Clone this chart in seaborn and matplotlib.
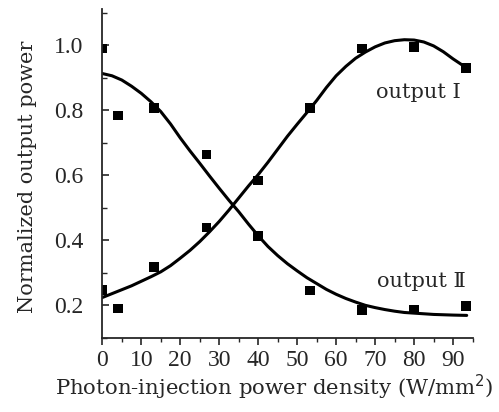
import matplotlib
matplotlib.use('Agg')
import matplotlib.pyplot as plt
import seaborn as sns
import pandas as pd
from matplotlib.ticker import MultipleLocator

# measured points
x_meas = [0, 4, 13.3, 26.7, 40, 53.3, 66.7, 80, 93.3]
out1_meas = [0.248, 0.19, 0.318, 0.439, 0.584, 0.806, 0.99, 0.995, 0.93]
out2_meas = [0.99, 0.784, 0.806, 0.664, 0.413, 0.246, 0.185, 0.187, 0.197]

# fitted curves, every 2.5 units
x_fit = [0, 2.5, 5, 7.5, 10, 12.5, 15, 17.5, 20, 22.5, 25, 27.5, 30, 32.5, 35, 37.5,
         40, 42.5, 45, 47.5, 50, 52.5, 55, 57.5, 60, 62.5, 65, 67.5, 70, 72.5, 75,
         77.5, 80, 82.5, 85, 87.5, 90, 93.5]
out1_fit = [0.224, 0.236, 0.248, 0.260, 0.274, 0.288, 0.303, 0.322, 0.345, 0.369, 0.396,
            0.426, 0.458, 0.493, 0.530, 0.567, 0.602, 0.64, 0.68, 0.72, 0.757, 0.793,
            0.83, 0.870, 0.906, 0.935, 0.960, 0.979, 0.995, 1.007, 1.014, 1.017, 1.016,
            1.01, 0.998, 0.98, 0.958, 0.93]
out2_fit = [0.913, 0.906, 0.893, 0.874, 0.852, 0.826, 0.796, 0.758, 0.715, 0.675, 0.637,
            0.598, 0.560, 0.523, 0.488, 0.45, 0.414, 0.381, 0.353, 0.328, 0.306, 0.285,
            0.267, 0.249, 0.234, 0.221, 0.210, 0.200, 0.193, 0.187, 0.182, 0.178, 0.176,
            0.174, 0.172, 0.171, 0.170, 0.169]

meas = pd.DataFrame({'x': x_meas * 2, 'y': out1_meas + out2_meas,
                     'series': ['I'] * len(x_meas) + ['II'] * len(x_meas)})
fit = pd.DataFrame({'x': x_fit * 2, 'y': out1_fit + out2_fit,
                    'series': ['I'] * len(x_fit) + ['II'] * len(x_fit)})

sns.set_style('ticks')
plt.rcParams['font.family'] = ['DejaVu Serif', 'DejaVu Sans']

fig = plt.figure(figsize=(4.99, 4.12), dpi=100)
ax = fig.add_axes([0.205, 0.180, 0.742, 0.797])

sns.lineplot(data=fit, x='x', y='y', units='series', estimator=None, color='black',
             linewidth=2.2, ax=ax, legend=False)
sns.scatterplot(data=meas, x='x', y='y', marker='s', color='black', s=48,
                edgecolor='none', ax=ax, legend=False)

ax.text(81.2, 0.856, 'output Ⅰ', ha='center', va='center', fontsize=15)
ax.text(81.9, 0.272, 'output Ⅱ', ha='center', va='center', fontsize=15)

ax.set_xlim(0, 95)
ax.set_ylim(0.1, 1.11)
ax.xaxis.set_major_locator(MultipleLocator(10))
ax.xaxis.set_minor_locator(MultipleLocator(5))
ax.yaxis.set_minor_locator(MultipleLocator(0.1))
ax.set_yticks([0.2, 0.4, 0.6, 0.8, 1.0])
ax.set_yticklabels(['0.2', '0.4', '0.6', '0.8', '1.0'])

ax.tick_params(axis='x', which='major', direction='out', length=5, width=1.2, labelsize=17, pad=4)
ax.tick_params(axis='x', which='minor', direction='out', length=3, width=1.0)
ax.tick_params(axis='y', which='major', direction='in', length=5, width=1.2, labelsize=17, pad=13.5)
ax.tick_params(axis='y', which='minor', direction='in', length=3.5, width=1.0)
for lab in ax.get_xticklabels() + ax.get_yticklabels():
    lab.set_family('Liberation Serif')

sns.despine(ax=ax)
for side in ['left', 'bottom']:
    ax.spines[side].set_linewidth(1.3)

ax.set_xlabel('Photon-injection power density (W/mm$^2$)', fontsize=15.3)
ax.xaxis.set_label_coords(0.4636, -0.106)
ax.set_ylabel('Normalized output power', fontsize=15)
ax.yaxis.set_label_coords(-0.176, 0.49)

fig.savefig('out.png', dpi=100)
